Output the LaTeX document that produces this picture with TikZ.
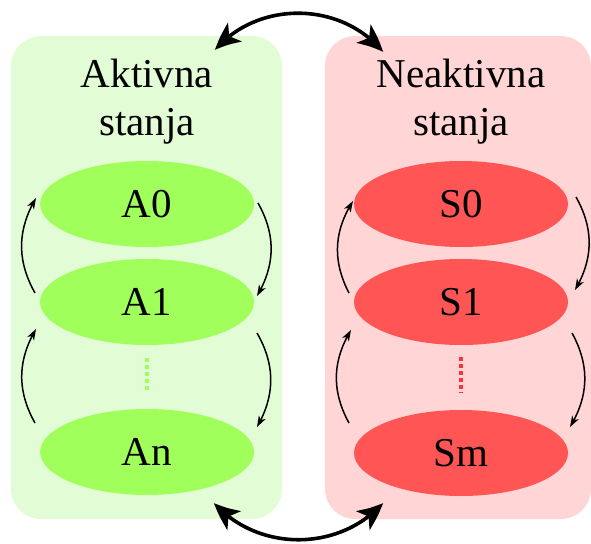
\documentclass[tikz,border=0pt]{standalone}
\usepackage{fontspec}
\setmainfont{Liberation Serif}
\usetikzlibrary{arrows.meta,bending,shapes.geometric}
\definecolor{actbg}{HTML}{E2FDD5}
\definecolor{actfill}{HTML}{A0FF5A}
\definecolor{inbg}{HTML}{FFD5D5}
\definecolor{infill}{HTML}{FF5555}
\definecolor{indots}{HTML}{FF3333}
\tikzset{
  panel/.style={rounded corners=30pt, inner sep=0pt, outer sep=0pt},
  title/.style={align=center, font=\fontsize{41}{48}\selectfont, anchor=base},
  statebox/.style={ellipse, minimum width=214pt, minimum height=86pt, inner sep=0pt, outer sep=0pt, font=\fontsize{41}{48}\selectfont},
  trans/.style={line width=1.5pt, -{Stealth[length=11pt,width=7.5pt,inset=3pt]}, bend left=30},
  link/.style={line width=3.6pt, {Stealth[length=27pt,width=23pt,inset=7pt,bend]}-{Stealth[length=27pt,width=23pt,inset=7pt,bend]}},
  dotline/.style={line width=3.6pt, dash pattern=on 4pt off 3pt}
}
\begin{document}
\begin{tikzpicture}[x=1pt,y=-1pt]
\useasboundingbox (0,0) rectangle (591,543);
% the two groups of states
\node[panel, fill=actbg, minimum width=271pt, minimum height=483pt] (act) at (146.5,277.5) {};
\node[panel, fill=inbg, minimum width=266pt, minimum height=483pt] (inact) at (458,277.5) {};
\node[title] (actt) at (147,135) {Aktivna\\stanja};
\node[title] (inactt) at (461,135) {Neaktivna\\stanja};
% active states
\node[statebox, fill=actfill] (A0) at (147,204) {A0};
\node[statebox, fill=actfill] (A1) at (147,302) {A1};
\node[statebox, fill=actfill] (An) at (147,452) {An};
% inactive states
\node[statebox, fill=infill] (S0) at (461,204) {S0};
\node[statebox, fill=infill] (S1) at (461,302) {S1};
\node[statebox, fill=infill] (Sm) at (461,453) {Sm};
% elided states
\draw[dotline, actfill] ([shift={(0,13)}]A1.south) -- ([shift={(0,-16)}]An.north);
\draw[dotline, indots] ([shift={(0,12)}]S1.south) -- ([shift={(0,-17)}]Sm.north);
% transitions between neighbouring active states
\draw[trans] ([shift={(-5,-9)}]A1.west) to ([shift={(-4,-6)}]A0.west);
\draw[trans] ([shift={(-5,-29)}]An.west) to ([shift={(-4,27)}]A1.west);
\draw[trans] ([shift={(4,-1)}]A0.east) to ([shift={(3,-6)}]A1.east);
\draw[trans] ([shift={(3,31)}]A1.east) to ([shift={(3,-25)}]An.east);
% transitions between neighbouring inactive states
\draw[trans] ([shift={(-5,-9)}]S1.west) to ([shift={(-1,-3)}]S0.west);
\draw[trans] ([shift={(-5,-30)}]Sm.west) to ([shift={(-3,28)}]S1.west);
\draw[trans] ([shift={(8,-7)}]S0.east) to ([shift={(7,-12)}]S1.east);
\draw[trans] ([shift={(4,31)}]S1.east) to ([shift={(2,-26)}]Sm.east);
% links between the two groups
\draw[link] ([shift={(-67,14)}]act.north east) to[bend left=50] ([shift={(58,16)}]inact.north west);
\draw[link] ([shift={(-68,-16)}]act.south east) to[bend right=48] ([shift={(58,-16)}]inact.south west);
\end{tikzpicture}
\end{document}
